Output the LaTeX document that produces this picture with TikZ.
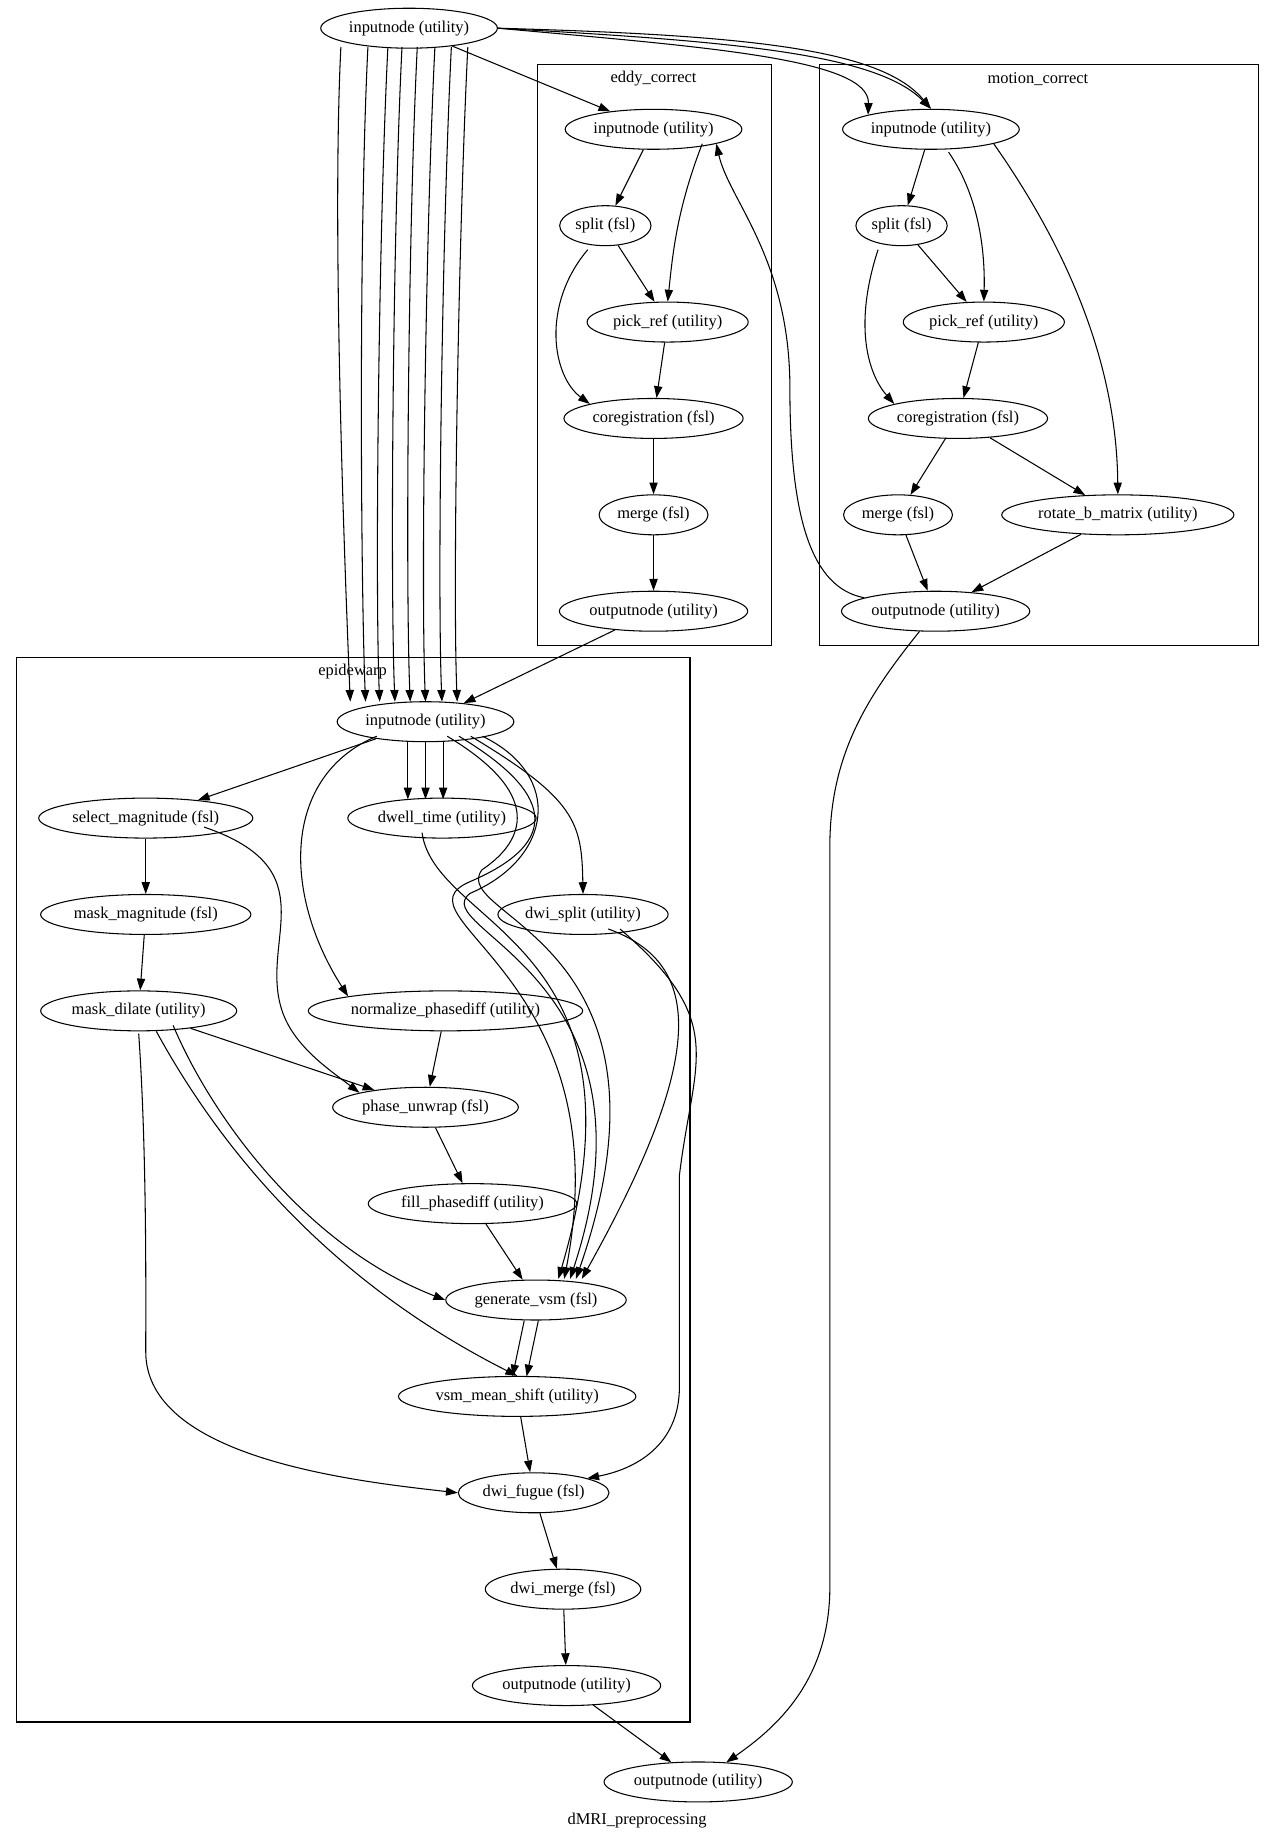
\documentclass[tikz,border=0pt]{standalone}
\usepackage{fontspec}
\setmainfont{Liberation Serif}
\usetikzlibrary{shapes.geometric,arrows.meta}
\begin{document}
\begin{tikzpicture}[x=1pt,y=-1pt,
  n/.style={ellipse,draw,line width=0.9pt,minimum height=34pt,inner xsep=2pt,inner ysep=0pt,font=\fontsize{14}{16}\selectfont},
  e/.style={-{Triangle[length=10pt,width=7pt]},line width=0.9pt},
  cl/.style={draw,line width=0.9pt},
  lab/.style={font=\fontsize{14}{16}\selectfont}]
\useasboundingbox (0,0) rectangle (1080,1562);
% clusters
\draw[cl] (457,55) rectangle (656,549); \node[lab] at (556,67) {eddy\_correct};
\draw[cl] (697,55) rectangle (1071,549); \node[lab] at (883,67) {motion\_correct};
\draw[cl] (14,559) rectangle (587,1465); \node[lab] at (300,571) {epidewarp};
% nodes
\node[n] (top) at (348,24) {inputnode (utility)};
\node[n] (ein) at (556,110) {inputnode (utility)};
\node[n] (esp) at (515,192) {split (fsl)};
\node[n] (epk) at (568,274) {pick\_ref (utility)};
\node[n] (eco) at (556,356) {coregistration (fsl)};
\node[n] (eme) at (556,438) {merge (fsl)};
\node[n] (eout) at (556,520) {outputnode (utility)};
\node[n] (min) at (792,110) {inputnode (utility)};
\node[n] (msp) at (767,192) {split (fsl)};
\node[n] (mpk) at (837,274) {pick\_ref (utility)};
\node[n] (mco) at (815,356) {coregistration (fsl)};
\node[n] (mme) at (764,438) {merge (fsl)};
\node[n] (mrot) at (951,438) {rotate\_b\_matrix (utility)};
\node[n] (mout) at (796,520) {outputnode (utility)};
\node[n] (win) at (362,614) {inputnode (utility)};
\node[n] (sel) at (124,696) {select\_magnitude (fsl)};
\node[n] (dwell) at (376,696) {dwell\_time (utility)};
\node[n] (dsp) at (496,778) {dwi\_split (utility)};
\node[n] (mmag) at (124,778) {mask\_magnitude (fsl)};
\node[n] (mdil) at (118,860) {mask\_dilate (utility)};
\node[n] (norm) at (379,860) {normalize\_phasediff (utility)};
\node[n] (phase) at (362,942) {phase\_unwrap (fsl)};
\node[n] (fill) at (402,1024) {fill\_phasediff (utility)};
\node[n] (gen) at (456,1106) {generate\_vsm (fsl)};
\node[n] (vsm) at (440,1188) {vsm\_mean\_shift (utility)};
\node[n] (fug) at (454,1270) {dwi\_fugue (fsl)};
\node[n] (dme) at (479,1352) {dwi\_merge (fsl)};
\node[n] (wout) at (482,1434) {outputnode (utility)};
\node[n] (out) at (594,1516) {outputnode (utility)};
\node[lab] at (542,1549) {dMRI\_preprocessing};
% top fan
\foreach \sx/\ex/\c in {290/298/0.1,313/311/0.25,330/323/0.4,342/336/0.5,355/349/0.6,370/362/0.7,384/376/0.8,398/389/0.9}{
  \draw[e] (top.south west) ++(0,0) (\sx,40) .. controls (\sx-8+\c*0,200) and (\ex-4,500) .. (\ex,597);
}
\draw[e] (top) -- (ein);
\draw[e] (top.east) .. controls (600,40) and (740,50) .. (min.north west);
\draw[e] (top.east) .. controls (620,35) and (745,45) .. (min.north);
\draw[e] (top.east) .. controls (640,30) and (750,42) .. (min.north);
\draw[e] (eout) -- (win);
\draw[e] (mout) .. controls (690,500) and (672,440) .. (672,330) .. controls (672,220) and (620,170) .. (ein.south east);
\draw[e] (mout) .. controls (740,590) and (706,640) .. (706,720) -- (706,1350) .. controls (706,1430) and (660,1470) .. (out);
\draw[e] (wout) -- (out);
% eddy
\draw[e] (ein) -- (esp);
\draw[e] (ein.south east) ++(-12,0) .. controls (575,180) and (572,220) .. (epk.north);
\draw[e] (esp) -- (epk);
\draw[e] (esp.south) ++(-15,3) .. controls (460,260) and (470,320) .. (eco.north west);
\draw[e] (epk) -- (eco);
\draw[e] (eco) -- (eme);
\draw[e] (eme) -- (eout);
% motion
\draw[e] (min) -- (msp);
\draw[e] (min.south) ++(15,2) .. controls (835,170) and (838,220) .. (mpk.north);
\draw[e] (min.south east) .. controls (900,200) and (950,300) .. (mrot.north);
\draw[e] (msp) -- (mpk);
\draw[e] (msp.south) ++(-20,3) .. controls (725,280) and (740,320) .. (mco.north west);
\draw[e] (mpk) -- (mco);
\draw[e] (mco) -- (mme);
\draw[e] (mco) -- (mrot);
\draw[e] (mme) -- (mout);
\draw[e] (mrot) -- (mout);
% epidewarp
\draw[e] (win) -- (sel);
\draw[e] (win.south) ++(-15,0) -- (347,680);
\draw[e] (win.south) ++(0,0) -- (362,680);
\draw[e] (win.south) ++(15,0) -- (377,680);
\draw[e] (win.south west) ++(12,0) .. controls (240,660) and (240,760) .. (norm.north west);
\draw[e] (win.south east) ++(-15,0) .. controls (490,680) and (495,700) .. (dsp.north);
\draw[e] (win.south east) ++(-25,0) .. controls (480,680) and (470,720) .. (400,750) .. controls (330,780) and (530,830) .. (480,1088);
\draw[e] (win.south east) ++(-5,0) .. controls (480,660) and (470,730) .. (400,760) .. controls (360,790) and (570,830) .. (485,1088);
\draw[e] (win.south east) ++(-35,0) .. controls (470,680) and (440,720) .. (410,740) .. controls (380,780) and (590,800) .. (490,1088);
\draw[e] (dwell.south west) ++(40,0) .. controls (370,790) and (560,800) .. (475,1088);
\draw[e] (dsp.south east) ++(-30,0) .. controls (600,820) and (600,900) .. (495,1088);
\draw[e] (dsp.south east) ++(-20,0) .. controls (620,870) and (590,900) .. (578,1000) -- (578,1180) .. controls (578,1230) and (540,1250) .. (fug.north east);
\draw[e] (sel.north east) ++(-15,20) .. controls (280,740) and (220,800) .. (240,860) .. controls (250,890) and (280,910) .. (phase.north west);
\draw[e] (sel) -- (mmag);
\draw[e] (mmag) -- (mdil);
\draw[e] (mdil) -- (phase);
\draw[e] (mdil.south east) ++(-30,0) .. controls (180,950) and (260,1060) .. (gen.west);
\draw[e] (mdil.south) ++(15,0) .. controls (200,1000) and (300,1100) .. (vsm.north);
\draw[e] (mdil.south) ++(0,2) .. controls (125,980) and (124,1100) .. (124,1150) .. controls (124,1240) and (300,1260) .. (fug.west);
\draw[e] (norm) -- (phase);
\draw[e] (phase) -- (fill);
\draw[e] (fill) -- (gen);
\draw[e] (gen.south) ++(-10,0) -- (436,1171);
\draw[e] (gen.south) ++(2,0) -- (448,1171);
\draw[e] (vsm) -- (fug);
\draw[e] (fug) -- (dme);
\draw[e] (dme) -- (wout);
\end{tikzpicture}
\end{document}
